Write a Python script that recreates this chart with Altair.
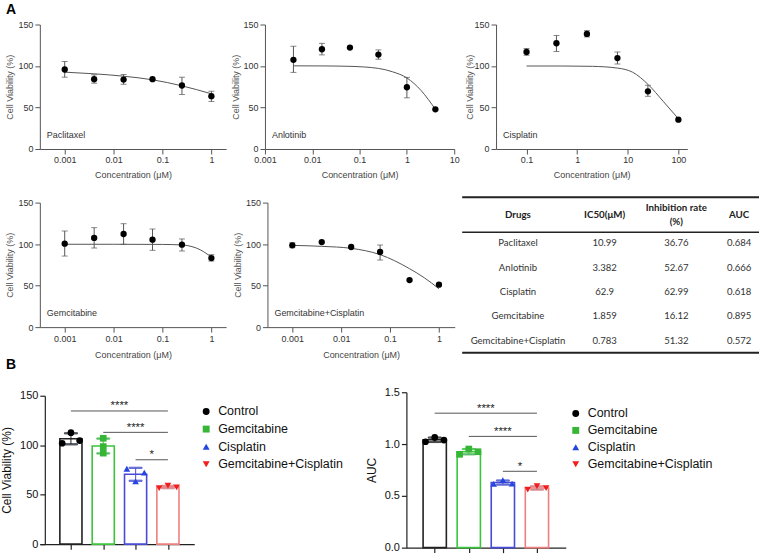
import altair as alt
import pandas as pd

FONT = "Liberation Sans"
TFONT = "Lato"

# ---------------- Panel A: dose-response data ----------------
ptx_conc = [0.001, 0.004, 0.016, 0.0625, 0.25, 1]
ptx_via = [95.8, 84.1, 83.7, 84.1, 76.5, 63.6]
ptx_lo = [86.5, 79.3, 78.0, 84.1, 65.7, 57.2]
ptx_hi = [105.4, 89.4, 89.8, 84.1, 86.5, 69.6]
ptx_fit_conc = [0.001, 0.004, 0.016, 0.0625, 0.25, 1]
ptx_fit_via = [92.6, 90.6, 87.7, 83.4, 76.1, 66.5]

anl_conc = [0.004, 0.016, 0.0625, 0.25, 1, 4]
anl_via = [107.4, 120.2, 122.2, 113.8, 74.4, 47.8]
anl_lo = [92.3, 113.4, 122.2, 108.2, 61.7, 47.8]
anl_hi = [123.8, 127.3, 122.2, 119.4, 86.3, 47.8]
anl_fit_conc = [0.004, 0.016, 0.0625, 0.25, 0.5, 1, 2, 4]
anl_fit_via = [100.2, 100.1, 99.6, 97.1, 93.0, 85.6, 70.4, 47.8]

cis_conc = [0.1, 0.39, 1.56, 6.25, 25, 100]
cis_via = [116.9, 127.4, 138.6, 109.6, 69.5, 35.4]
cis_lo = [113.0, 117.5, 135.0, 102.4, 63.5, 35.4]
cis_hi = [121.0, 136.8, 142.6, 116.9, 76.8, 35.4]
cis_fit_conc = [0.1, 0.5, 2, 6.25, 12.5, 25, 50, 100]
cis_fit_via = [100.0, 100.0, 99.6, 97.5, 92.5, 78.0, 57.5, 36.5]

gem_conc = [0.001, 0.004, 0.016, 0.0625, 0.25, 1]
gem_via = [100.5, 107.4, 112.2, 105.3, 99.3, 83.2]
gem_lo = [85.6, 95.3, 99.7, 92.5, 91.7, 79.6]
gem_hi = [115.8, 119.8, 124.6, 118.2, 106.2, 87.3]
gem_fit_conc = [0.001, 0.01, 0.1, 0.25, 0.4, 0.6, 1]
gem_fit_via = [99.8, 99.8, 99.6, 99.0, 97.0, 93.0, 84.2]

gc_conc = [0.001, 0.004, 0.016, 0.0625, 0.25, 1]
gc_via = [98.5, 102.5, 96.5, 90.5, 56.7, 51.1]
gc_lo = [95.7, 102.5, 96.5, 80.8, 56.7, 51.1]
gc_hi = [101.7, 102.5, 96.5, 98.9, 56.7, 51.1]
gc_fit_conc = [0.001, 0.004, 0.016, 0.0625, 0.25, 0.5, 1]
gc_fit_via = [98.5, 97.3, 94.9, 87.3, 70.4, 59.5, 46.2]

# ---------------- Table ----------------
tab_headers = ["Drugs", "IC50(μM)", "Inhibition rate\n(%)", "AUC"]
tab_drugs = ["Paclitaxel", "Anlotinib", "Cisplatin", "Gemcitabine", "Gemcitabine+Cisplatin"]
tab_ic50 = ["10.99", "3.382", "62.9", "1.859", "0.783"]
tab_inhib = ["36.76", "52.67", "62.99", "16.12", "51.32"]
tab_auc = ["0.684", "0.666", "0.618", "0.895", "0.572"]

# ---------------- Panel B ----------------
groups = ["Control", "Gemcitabine", "Cisplatin", "Gemcitabine+Cisplatin"]
via_reps = [[102.0, 112.7, 104.7], [107.0, 98.6, 92.0], [76.2, 63.4, 72.2], [56.7, 59.1, 57.4]]
via_jitter = [[-1, 0, 1], [0, 0, 0], [-1, 0, 1], [-1, 0, 1]]
auc_reps = [[1.022, 1.064, 1.038], [0.901, 0.952, 0.926], [0.615, 0.651, 0.619], [0.561, 0.593, 0.574]]
auc_jitter = [[-1, 0, 1], [-1, 0, 1], [-1, 0, 1], [-1, 0, 1]]
sig_from = [0, 1, 2]
sig_to = [3, 3, 3]
sig_text = ["****", "****", "*"]
via_sig_y = [134.6, 113.0, 85.3]
auc_sig_y = [1.298, 1.074, 0.737]

bar_stroke = ["#222222", "#3cc43c", "#4a4ad8", "#ee7f7f"]
pt_color = ["#000000", "#36b536", "#2545e0", "#f01e1e"]
pt_shape = ["circle", "square", "triangle-up", "triangle-down"]

AXC = "#555555"


def dose_panel(name, conc, via, lo, hi, fconc, fvia, domain, ticks, width, xtpad, ytpad=3):
    pts = pd.DataFrame({"conc": conc, "via": via, "lo": lo, "hi": hi})
    fit = pd.DataFrame({"conc": fconc, "via": fvia})
    xs = alt.Scale(type="log", domain=domain, nice=False)
    ys = alt.Scale(domain=[0, 150], nice=False, zero=False)
    xax = alt.Axis(title="Concentration (μM)", values=ticks, format="~g", grid=False,
                   tickSize=5, labelPadding=2, titlePadding=xtpad, labelFontSize=9,
                   titleFontSize=9, titleFontWeight="normal", titleColor="#444",
                   labelColor="#333", domainColor=AXC, tickColor=AXC, labelFlush=False,
                   labelOverlap=False, labelFont=FONT, titleFont=FONT)
    yax = alt.Axis(title="Cell Viability (%)", values=[0, 50, 100, 150], grid=False,
                   tickSize=5, labelPadding=2, titlePadding=ytpad, labelFontSize=9,
                   titleFontSize=9, titleFontWeight="normal", titleColor="#555",
                   labelColor="#333", domainColor=AXC, tickColor=AXC,
                   labelFont=FONT, titleFont=FONT)
    X = alt.X("conc:Q", scale=xs, axis=xax)

    def Y(f):
        return alt.Y(f, scale=ys, axis=yax)

    line = alt.Chart(fit).mark_line(color="#555", strokeWidth=1, interpolate="monotone").encode(
        x=X, y=Y("via:Q"))
    ebase = alt.Chart(pts).transform_filter("datum.hi > datum.lo")
    err = ebase.mark_rule(color="#555", strokeWidth=1).encode(x=X, y=Y("lo:Q"), y2="hi:Q")
    cap1 = ebase.mark_tick(orient="horizontal", size=6, thickness=1, color="#555").encode(
        x=X, y=Y("lo:Q"))
    cap2 = ebase.mark_tick(orient="horizontal", size=6, thickness=1, color="#555").encode(
        x=X, y=Y("hi:Q"))
    dots = alt.Chart(pts).mark_circle(size=40, color="#000", opacity=1).encode(x=X, y=Y("via:Q"))
    lab = alt.Chart(pd.DataFrame({"t": [name]})).mark_text(
        align="left", baseline="middle", fontSize=9, font=FONT, color="#333").encode(
        x=alt.value(7), y=alt.value(111), text="t:N")
    return alt.layer(line, err, cap1, cap2, dots, lab).properties(width=width, height=125)


p1 = dose_panel("Paclitaxel", ptx_conc, ptx_via, ptx_lo, ptx_hi, ptx_fit_conc, ptx_fit_via,
                [0.00031, 2], [0.001, 0.01, 0.1, 1], 187, 5.5)
p2 = dose_panel("Anlotinib", anl_conc, anl_via, anl_lo, anl_hi, anl_fit_conc, anl_fit_via,
                [0.001, 10], [0.001, 0.01, 0.1, 1, 10], 190, 5.5)
p3 = dose_panel("Cisplatin", cis_conc, cis_via, cis_lo, cis_hi, cis_fit_conc, cis_fit_via,
                [0.025, 150], [0.1, 1, 10, 100], 192, 5.5, 0)
p4 = dose_panel("Gemcitabine", gem_conc, gem_via, gem_lo, gem_hi, gem_fit_conc, gem_fit_via,
                [0.00031, 2], [0.001, 0.01, 0.1, 1], 187, 7.5)
p5 = dose_panel("Gemcitabine+Cisplatin", gc_conc, gc_via, gc_lo, gc_hi, gc_fit_conc, gc_fit_via,
                [0.00031, 2.1], [0.001, 0.01, 0.1, 1], 188, 7.5)

# ---------------- table chart (origin = top of neighbouring plot areas) ----------------
TAB_W = 298
col_x = [56, 143, 215, 278]
hdr_y = [12.7, 12.7, 5.7, 12.7]
one = pd.DataFrame({"k": [0]})
tab_layers = []
for yy, sw in [(-5.3, 2), (29.7, 1.5), (150.7, 2)]:
    tab_layers.append(alt.Chart(one).mark_rule(color="#222", strokeWidth=sw).encode(
        x=alt.value(0), x2=alt.value(TAB_W), y=alt.value(yy)))
for i, h in enumerate(tab_headers):
    tab_layers.append(alt.Chart(one).mark_text(
        text=h, lineBreak="\n", lineHeight=14, fontSize=9.8, font=TFONT, fontWeight="bold",
        color="#222", align="center", baseline="middle").encode(
        x=alt.value(col_x[i]), y=alt.value(hdr_y[i])))
tab_df = pd.DataFrame({"drug": tab_drugs, "ic50": tab_ic50, "inh": tab_inhib, "auc": tab_auc})
rowY = alt.Y("drug:N", scale=alt.Scale(type="point", domain=tab_drugs, range=[40.7, 138.7],
                                       padding=0), axis=None)
for i, f in enumerate(["drug", "ic50", "inh", "auc"]):
    tab_layers.append(alt.Chart(tab_df).mark_text(
        fontSize=9.6, font=TFONT, color="#333", align="center", baseline="middle").encode(
        x=alt.value(col_x[i]), y=rowY, text=f + ":N"))
table = alt.layer(*tab_layers).properties(width=TAB_W, height=145)


# ---------------- bar charts ----------------
def bar_panel(reps, jit, ytitle, ydom, yticks, yfmt, sig_y, xdom, width, height, yoff, tpad):
    rows = []
    for gi, g in enumerate(groups):
        for v, j in zip(reps[gi], jit[gi]):
            rows.append({"grp": g, "idx": gi, "v": v, "jit": j})
    df = pd.DataFrame(rows)
    sig = pd.DataFrame({"a": sig_from, "b": sig_to, "y": sig_y, "t": sig_text})
    xs = alt.Scale(domain=xdom, nice=False, zero=False)
    ys = alt.Scale(domain=ydom, nice=False)
    xax = alt.Axis(title=None, values=[0, 1, 2, 3], labels=False, grid=False, tickSize=5,
                   domainColor="#222", tickColor="#222", domainWidth=1.2, tickWidth=1.2)
    yax = alt.Axis(title=ytitle, values=yticks, format=yfmt, grid=False, tickSize=5,
                   labelPadding=2, titlePadding=tpad, labelFontSize=11, titleFontSize=12,
                   titleFontWeight="normal", titleColor="#111", labelColor="#111",
                   domainColor="#222", tickColor="#222", domainWidth=1.2, tickWidth=1.2,
                   labelFont=FONT, titleFont=FONT, offset=yoff)

    def X(f):
        return alt.X(f, scale=xs, axis=xax)

    def Y(f):
        return alt.Y(f, scale=ys, axis=yax)

    sscale = alt.Scale(domain=groups, range=bar_stroke)
    stats = alt.Chart(df).transform_aggregate(
        m="mean(v)", sd="stdev(v)", groupby=["grp", "idx"]).transform_calculate(
        lo="datum.m - datum.sd", hi="datum.m + datum.sd")
    unit = width / (xdom[1] - xdom[0])
    bars = stats.mark_bar(fill="white", strokeWidth=1.6, width=unit * 0.64,
                          orient="vertical").encode(
        x=X("idx:Q"), y=Y("m:Q"), stroke=alt.Stroke("grp:N", scale=sscale, legend=None))
    err = stats.mark_rule(strokeWidth=1.2, opacity=0.85).encode(
        x=X("idx:Q"), y=Y("lo:Q"), y2="hi:Q", stroke=alt.Stroke("grp:N", scale=sscale, legend=None))
    c1 = stats.mark_tick(orient="horizontal", size=13, thickness=1.2, opacity=0.85).encode(
        x=X("idx:Q"), y=Y("lo:Q"), stroke=alt.Stroke("grp:N", scale=sscale, legend=None))
    c2 = stats.mark_tick(orient="horizontal", size=13, thickness=1.2, opacity=0.85).encode(
        x=X("idx:Q"), y=Y("hi:Q"), stroke=alt.Stroke("grp:N", scale=sscale, legend=None))
    pts = alt.Chart(df).transform_calculate(xj="datum.idx + datum.jit * 0.27").mark_point(
        filled=True, size=45, opacity=1).encode(
        x=X("xj:Q"), y=Y("v:Q"),
        color=alt.Color("grp:N", scale=alt.Scale(domain=groups, range=pt_color), legend=None),
        shape=alt.Shape("grp:N", scale=alt.Scale(domain=groups, range=pt_shape), legend=None))
    sb = alt.Chart(sig).transform_calculate(mid="(datum.a + datum.b) / 2")
    srule = sb.mark_rule(color="#555", strokeWidth=1).encode(x=X("a:Q"), x2="b:Q", y=Y("y:Q"))
    stext = sb.mark_text(fontSize=11.5, font=FONT, color="#222", baseline="alphabetic",
                         dy=-1.5).encode(x=X("mid:Q"), y=Y("y:Q"), text="t:N")
    return alt.layer(bars, err, c1, c2, pts, srule, stext).properties(width=width, height=height)


def legend_panel(yrange, width, symx):
    ldf = pd.DataFrame({"grp": groups})
    ly = alt.Y("grp:N", scale=alt.Scale(type="point", domain=groups, range=yrange, padding=0),
               axis=None)
    sym = alt.Chart(ldf).mark_point(filled=True, size=48, opacity=1).encode(
        x=alt.value(symx), y=ly,
        color=alt.Color("grp:N", scale=alt.Scale(domain=groups, range=pt_color), legend=None),
        shape=alt.Shape("grp:N", scale=alt.Scale(domain=groups, range=pt_shape), legend=None))
    txt = alt.Chart(ldf).mark_text(align="left", baseline="middle", fontSize=12.5, font=FONT,
                                   color="#111").encode(x=alt.value(symx + 12), y=ly, text="grp:N")
    return alt.layer(sym, txt).properties(width=width, height=166)


bl = bar_panel(via_reps, via_jitter, "Cell Viability (%)", [0, 150], [0, 50, 100, 150], "d",
               via_sig_y, [-0.807, 3.66], 155, 149, -5, 5.7)
br = bar_panel(auc_reps, auc_jitter, "AUC", [0, 1.5], [0, 0.5, 1.0, 1.5], ".1f",
               auc_sig_y, [-0.685, 3.70], 160, 156, 0, 5.7)
legL = legend_panel([21.5, 74.5], 172, 12)
legR = legend_panel([23.5, 74.5], 150, 10)

row1 = alt.hconcat(p1, p2, p3, spacing=4)
row2 = alt.hconcat(p4, p5, table, spacing=6.5)
row3 = alt.hconcat(bl, legL, br, legR, spacing=0, center=True,
                   title=alt.TitleParams(text="B", anchor="start", fontSize=14, fontWeight="bold",
                                         font=FONT, color="#000", offset=14.5, dx=5)).resolve_scale(
    color="independent", shape="independent", stroke="independent")

upper = alt.vconcat(row1, row2, spacing=15.8)
chart = alt.vconcat(upper, row3, spacing=-3,
                    title=alt.TitleParams(text="A", anchor="start", fontSize=14, fontWeight="bold",
                                          font=FONT, color="#000", offset=3.5, dx=5)).properties(
    padding={"left": 0, "top": 1.5, "right": 2, "bottom": 2}).configure(font=FONT).configure_view(
    stroke=None)

chart.save("out.html", embed_options={"renderer": "svg", "actions": False})
